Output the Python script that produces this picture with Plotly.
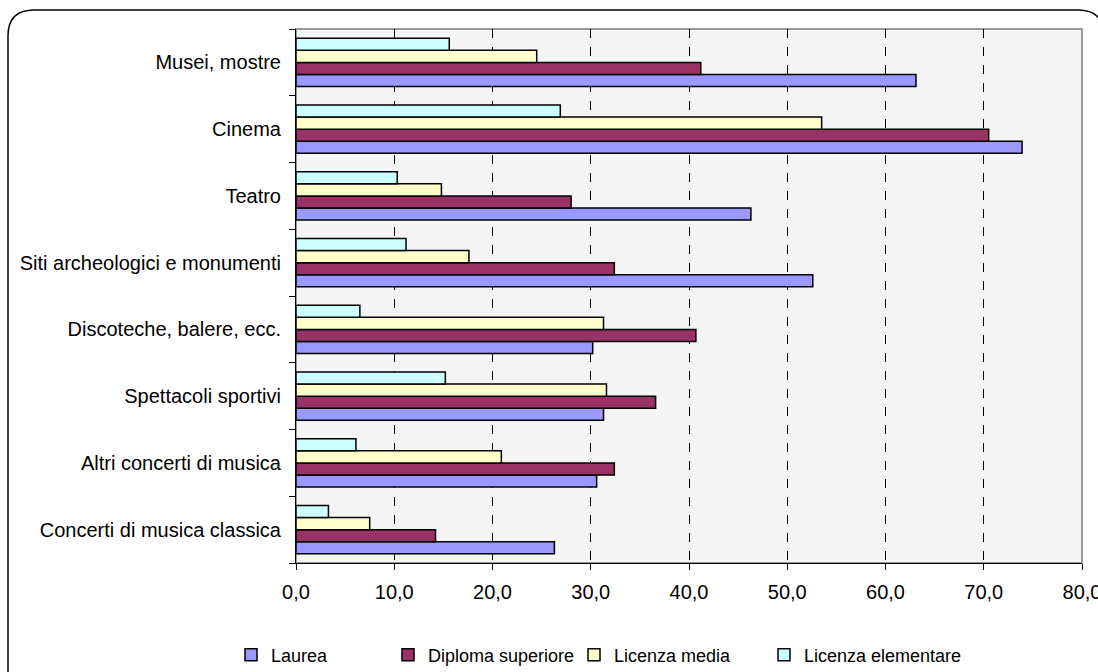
import plotly.graph_objects as go

categories = [
    "Musei, mostre",
    "Cinema",
    "Teatro",
    "Siti archeologici e monumenti",
    "Discoteche, balere, ecc.",
    "Spettacoli sportivi",
    "Altri concerti di musica",
    "Concerti di musica classica",
]
laurea = [63.1, 73.9, 46.3, 52.6, 30.2, 31.3, 30.6, 26.3]
diploma = [41.2, 70.5, 28.0, 32.4, 40.7, 36.6, 32.4, 14.2]
media = [24.5, 53.5, 14.8, 17.6, 31.3, 31.6, 20.9, 7.5]
elementare = [15.6, 26.9, 10.3, 11.2, 6.5, 15.2, 6.1, 3.3]

tick_vals = [0, 10, 20, 30, 40, 50, 60, 70, 80]
tick_text = ["0,0", "10,0", "20,0", "30,0", "40,0", "50,0", "60,0", "70,0", "80,0"]

series = [
    ("Laurea", laurea, "#9999FF"),
    ("Diploma superiore", diploma, "#993366"),
    ("Licenza media", media, "#FFFFCC"),
    ("Licenza elementare", elementare, "#CCFFFF"),
]

W, H = 1098, 672
ML, MR, MT, MB = 296, 16, 29, 109
PW, PH = W - ML - MR, H - MT - MB


def px(x):
    return (x - ML) / PW


def py(y):
    return (H - MB - y) / PH


legend_ids = ["legend", "legend2", "legend3", "legend4"]
legend_px = [231, 388, 574, 764]

fig = go.Figure()
cat_order = categories[::-1]
for (name, vals, col), lid in zip(series, legend_ids):
    fig.add_trace(go.Bar(
        y=categories, x=vals, name=name, orientation="h", legend=lid,
        marker=dict(color=col, line=dict(color="black", width=1.5)),
    ))

frame = (f"M {px(8)},{py(690)} L {px(8)},{py(36)} Q {px(8)},{py(10)} {px(34)},{py(10)} "
         f"L {px(1078)},{py(10)} Q {px(1104)},{py(10)} {px(1104)},{py(36)} L {px(1104)},{py(690)}")

legend_common = dict(orientation="h", xanchor="left", y=py(655), yanchor="middle",
                     font=dict(size=18), bgcolor="rgba(0,0,0,0)")
legends = {lid: dict(x=px(lx), **legend_common) for lid, lx in zip(legend_ids, legend_px)}

fig.update_layout(
    width=W, height=H,
    margin=dict(l=ML, r=MR, t=MT, b=MB, pad=0, autoexpand=False),
    paper_bgcolor="white",
    plot_bgcolor="#f5f5f5",
    barmode="group",
    bargap=0.28,
    bargroupgap=0,
    font=dict(family="Liberation Sans, Arial, sans-serif", color="black", size=20),
    xaxis=dict(
        range=[0, 80], tickvals=tick_vals, ticktext=tick_text,
        showgrid=True, gridcolor="black", griddash="dash", gridwidth=1,
        ticks="outside", ticklen=6, tickcolor="black",
        showline=True, linecolor="black", linewidth=1,
        zeroline=False, tickfont=dict(size=20), automargin=False,
        ticklabeloverflow="allow", ticklabelstandoff=5,
    ),
    yaxis=dict(
        categoryorder="array", categoryarray=cat_order,
        showgrid=False, ticks="outside", ticklen=6, tickcolor="black",
        tickson="boundaries", showline=True, linecolor="black", linewidth=1,
        tickfont=dict(size=20), ticklabelstandoff=10, automargin=False,
    ),
    showlegend=True,
    shapes=[
        dict(type="rect", xref="paper", yref="paper", x0=0, y0=0, x1=1, y1=1,
             line=dict(color="#999999", width=2), layer="below"),
        dict(type="path", xref="paper", yref="paper", path=frame,
             line=dict(color="black", width=1.5)),
    ],
    **legends,
)

fig.write_html("out.html")
